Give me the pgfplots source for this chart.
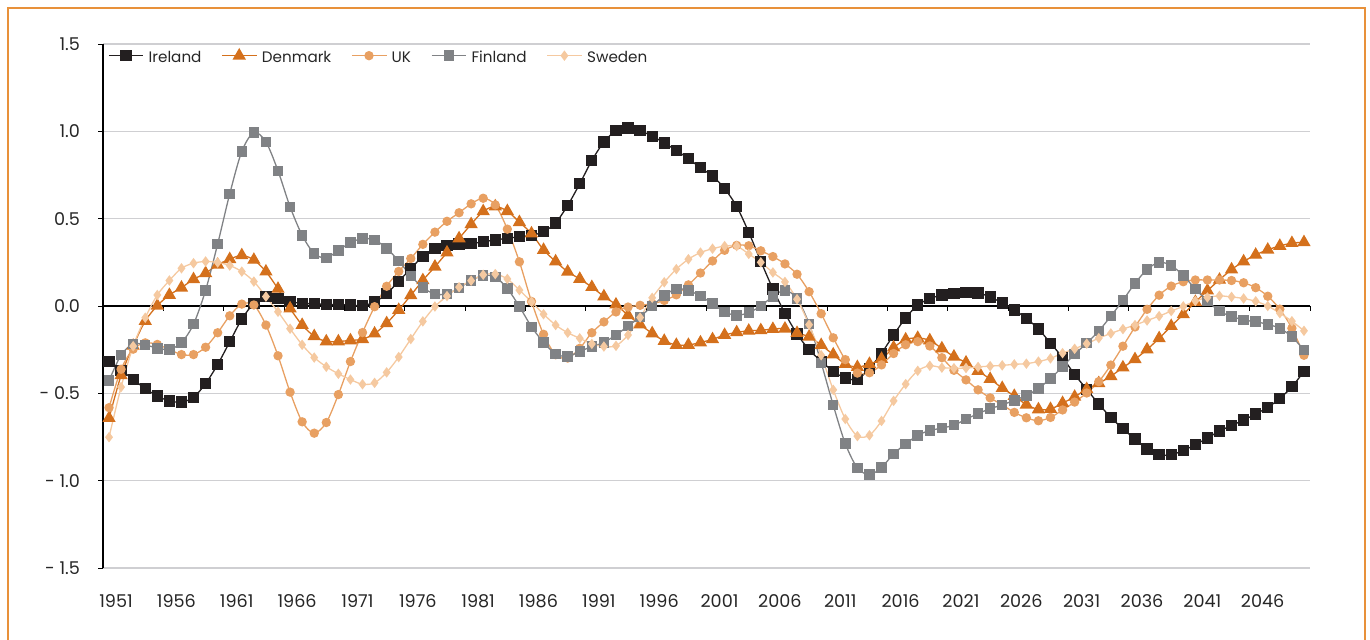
\documentclass[border=0pt]{standalone}
\usepackage{fontspec}
\setmainfont{Poppins}
\usepackage{pgfplots}
\usepackage{pgfplotstable}
\pgfplotsset{compat=1.18}
\definecolor{cIE}{HTML}{231F20}
\definecolor{cDK}{HTML}{D4701C}
\definecolor{cUK}{HTML}{E8A062}
\definecolor{cFI}{HTML}{808285}
\definecolor{cSE}{HTML}{F5C9A0}
\definecolor{cGrid}{HTML}{CFCFD2}
\definecolor{cFrame}{HTML}{E8913A}
\pgfplotstableread{
year IE DK UK FI SE
1951 -0.316 -0.642 -0.582 -0.427 -0.751
1952 -0.368 -0.397 -0.362 -0.280 -0.464
1953 -0.420 -0.228 -0.247 -0.217 -0.230
1954 -0.473 -0.086 -0.211 -0.222 -0.067
1955 -0.515 0.002 -0.220 -0.242 0.063
1956 -0.544 0.063 -0.249 -0.248 0.146
1957 -0.550 0.105 -0.278 -0.210 0.216
1958 -0.523 0.153 -0.278 -0.104 0.245
1959 -0.444 0.188 -0.236 0.090 0.255
1960 -0.335 0.236 -0.153 0.355 0.249
1961 -0.205 0.268 -0.056 0.642 0.232
1962 -0.075 0.290 0.011 0.885 0.197
1963 0.015 0.264 0.006 0.994 0.140
1964 0.054 0.197 -0.109 0.939 0.054
1965 0.044 0.098 -0.285 0.774 -0.033
1966 0.025 -0.014 -0.493 0.568 -0.130
1967 0.015 -0.109 -0.663 0.405 -0.222
1968 0.013 -0.173 -0.728 0.300 -0.295
1969 0.009 -0.203 -0.667 0.276 -0.348
1970 0.009 -0.203 -0.507 0.318 -0.388
1971 0.006 -0.197 -0.318 0.363 -0.421
1972 0.002 -0.190 -0.152 0.386 -0.448
1973 0.023 -0.158 -0.004 0.378 -0.440
1974 0.070 -0.099 0.113 0.330 -0.380
1975 0.142 -0.023 0.198 0.258 -0.292
1976 0.213 0.061 0.272 0.173 -0.189
1977 0.285 0.147 0.353 0.106 -0.088
1978 0.328 0.225 0.423 0.068 -0.003
1979 0.348 0.306 0.485 0.070 0.057
1980 0.355 0.387 0.534 0.104 0.108
1981 0.357 0.468 0.585 0.145 0.145
1982 0.368 0.542 0.617 0.175 0.179
1983 0.378 0.570 0.579 0.166 0.183
1984 0.388 0.543 0.440 0.100 0.155
1985 0.396 0.480 0.253 -0.003 0.091
1986 0.405 0.415 0.026 -0.119 0.024
1987 0.425 0.321 -0.162 -0.208 -0.047
1988 0.476 0.255 -0.279 -0.274 -0.109
1989 0.576 0.196 -0.298 -0.289 -0.153
1990 0.700 0.155 -0.242 -0.260 -0.185
1991 0.833 0.108 -0.153 -0.232 -0.217
1992 0.939 0.055 -0.091 -0.208 -0.232
1993 1.004 0.008 -0.034 -0.166 -0.228
1994 1.019 -0.053 -0.006 -0.115 -0.166
1995 1.004 -0.106 0.004 -0.062 -0.066
1996 0.972 -0.157 0.013 0.000 0.047
1997 0.934 -0.200 0.032 0.060 0.136
1998 0.890 -0.223 0.064 0.098 0.211
1999 0.844 -0.223 0.121 0.089 0.268
2000 0.791 -0.209 0.189 0.057 0.306
2001 0.744 -0.191 0.258 0.013 0.328
2002 0.672 -0.166 0.319 -0.034 0.343
2003 0.570 -0.151 0.347 -0.053 0.343
2004 0.422 -0.142 0.345 -0.038 0.298
2005 0.256 -0.139 0.316 0.000 0.250
2006 0.098 -0.132 0.283 0.055 0.192
2007 -0.041 -0.130 0.241 0.090 0.138
2008 -0.160 -0.155 0.182 0.042 0.039
2009 -0.250 -0.176 0.082 -0.102 -0.107
2010 -0.316 -0.224 -0.044 -0.325 -0.282
2011 -0.374 -0.278 -0.182 -0.568 -0.480
2012 -0.413 -0.332 -0.307 -0.788 -0.647
2013 -0.419 -0.350 -0.384 -0.927 -0.745
2014 -0.358 -0.332 -0.382 -0.965 -0.740
2015 -0.270 -0.303 -0.337 -0.925 -0.658
2016 -0.166 -0.238 -0.272 -0.846 -0.543
2017 -0.068 -0.192 -0.222 -0.790 -0.447
2018 0.005 -0.183 -0.204 -0.740 -0.371
2019 0.042 -0.197 -0.229 -0.713 -0.342
2020 0.063 -0.243 -0.296 -0.699 -0.353
2021 0.071 -0.290 -0.368 -0.682 -0.356
2022 0.076 -0.324 -0.423 -0.648 -0.355
2023 0.074 -0.372 -0.480 -0.616 -0.349
2024 0.052 -0.418 -0.526 -0.588 -0.344
2025 0.017 -0.470 -0.566 -0.566 -0.340
2026 -0.022 -0.515 -0.609 -0.540 -0.334
2027 -0.071 -0.565 -0.640 -0.512 -0.330
2028 -0.131 -0.592 -0.657 -0.472 -0.318
2029 -0.213 -0.590 -0.638 -0.415 -0.300
2030 -0.295 -0.556 -0.595 -0.347 -0.270
2031 -0.392 -0.520 -0.550 -0.276 -0.245
2032 -0.477 -0.476 -0.498 -0.213 -0.216
2033 -0.561 -0.442 -0.433 -0.143 -0.184
2034 -0.638 -0.402 -0.338 -0.058 -0.157
2035 -0.703 -0.352 -0.230 0.033 -0.132
2036 -0.762 -0.305 -0.120 0.130 -0.109
2037 -0.819 -0.249 -0.019 0.209 -0.083
2038 -0.852 -0.185 0.062 0.250 -0.058
2039 -0.852 -0.115 0.114 0.232 -0.029
2040 -0.827 -0.048 0.139 0.174 -0.002
2041 -0.794 0.023 0.149 0.098 0.029
2042 -0.756 0.088 0.149 0.030 0.049
2043 -0.716 0.150 0.149 -0.030 0.058
2044 -0.684 0.209 0.146 -0.059 0.052
2045 -0.653 0.255 0.133 -0.080 0.043
2046 -0.618 0.293 0.105 -0.090 0.027
2047 -0.580 0.322 0.056 -0.105 0.000
2048 -0.530 0.344 -0.018 -0.128 -0.041
2049 -0.462 0.360 -0.127 -0.176 -0.087
2050 -0.375 0.365 -0.282 -0.252 -0.142
}\datatable
\begin{document}
\begin{tikzpicture}
\useasboundingbox (0,0) rectangle (685pt,319.5pt);
\draw[cFrame, line width=0.8pt] (4pt,-2pt) -- (4pt,315.5pt) -- (682.5pt,315.5pt) -- (682.5pt,-2pt);
\begin{axis}[
  at={(51.5pt,35.5pt)}, anchor=south west,
  scale only axis, width=603.5pt, height=262pt,
  xmin=1950.5, xmax=2050.5, ymin=-1.5, ymax=1.5,
  axis lines*=left,
  x axis line style={draw=none},
  y axis line style={black, line width=0.6pt},
  clip=false,
  ytick={-1.5,-1,-0.5,0.5,1,1.5},
  yticklabels={- 1.5,- 1.0,- 0.5,0.5,1.0,1.5},
  extra y ticks={0},
  extra y tick labels={0.0},
  extra y tick style={grid style={black, line width=0.6pt}},
  ymajorgrids,
  grid style={cGrid, line width=0.75pt},
  xtick={1951,1956,1961,1966,1971,1976,1981,1986,1991,1996,2001,2006,2011,2016,2021,2026,2031,2036,2041,2046},
  xticklabels={1951,1956,1961,1966,1971,1976,1981,1986,1991,1996,2001,2006,2011,2016,2021,2026,2031,2036,2041,2046},
  xtick style={draw=none},
  ytick style={black, line width=0.5pt},
  tick align=outside,
  major tick length=2.5pt,
  tick label style={font=\fontsize{8.8}{10}\selectfont, text=black!85},
  xticklabel style={yshift=-7pt, xshift=3.5pt},
  yticklabel style={xshift=-5.5pt},
  legend style={at={(0.004,1.006)}, anchor=north west, draw=none, fill=none,
    font=\fontsize{7.6}{9}\selectfont, text=black!85, inner sep=0pt,
    nodes={inner xsep=2.5pt, text height=1.6ex, text depth=0.3ex}},
  legend columns=5,
  legend cell align=left,
  /tikz/every even column/.append style={column sep=7.5pt},
  every axis plot/.append style={line width=0.65pt, smooth},
]
\pgfplotsinvokeforeach{1955.5,1960.5,1965.5,1970.5,1975.5,1980.5,1985.5,1990.5,1995.5,2000.5,2005.5,2010.5,2015.5,2020.5,2025.5,2030.5,2035.5,2040.5,2045.5,2050.5}{
  \draw[black, line width=0.5pt] (axis cs:#1,0) -- ++(0pt,-2.5pt);
}
\addplot[cIE, mark=square*, mark size=2.5pt, mark options={solid}] table[x=year,y=IE] {\datatable};
\addlegendentry{Ireland}
\addplot[cDK, mark=triangle*, mark size=3.2pt, mark options={solid}] table[x=year,y=DK] {\datatable};
\addlegendentry{Denmark}
\addplot[cUK, mark=*, mark size=2pt, mark options={solid}] table[x=year,y=UK] {\datatable};
\addlegendentry{UK}
\addplot[cFI, mark=square*, mark size=2.3pt, mark options={solid}] table[x=year,y=FI] {\datatable};
\addlegendentry{Finland}
\addplot[cSE, mark=diamond*, mark size=2.1pt, mark options={solid}] table[x=year,y=SE] {\datatable};
\addlegendentry{Sweden}
\end{axis}
\end{tikzpicture}
\end{document}
